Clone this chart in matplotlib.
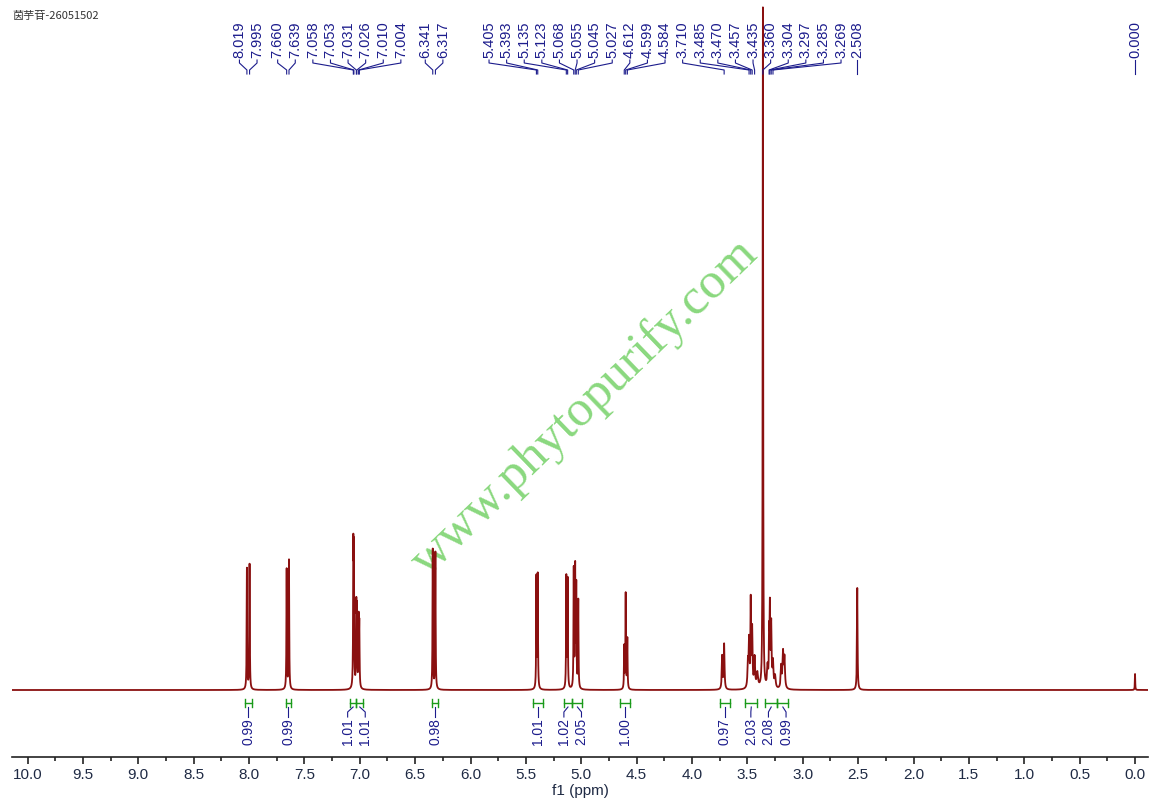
import numpy as np
import matplotlib.pyplot as plt

plt.rcParams['font.family'] = ['Liberation Sans', 'DejaVu Sans']

title = '茵芋苷-26051502'

# spectrum lines: shift (ppm), height (a.u.), line width (ppm)
peak_ppm = [8.019, 7.995, 7.660, 7.639,
            7.058, 7.053, 7.031, 7.026, 7.010, 7.004,
            6.341, 6.317,
            5.405, 5.393, 5.135, 5.123, 5.068, 5.055, 5.045, 5.027,
            4.612, 4.599, 4.584,
            3.728, 3.710,
            3.495, 3.485, 3.470, 3.457, 3.435, 3.410,
            3.360,
            3.318, 3.304, 3.297, 3.285, 3.269, 3.250,
            3.195, 3.178, 3.165,
            2.508, 0.000]
peak_height = [121, 125, 120, 129,
               130, 125, 75, 70, 66, 60,
               140, 137,
               111, 113, 111, 108, 118, 118, 100, 88,
               42, 95, 50,
               33, 45,
               25, 45, 85, 58, 30, 15,
               681,
               20, 50, 75, 62, 25, 12,
               22, 35, 30,
               102, 16]
peak_width = [0.005] * 23 + [0.008, 0.008,
                             0.010, 0.008, 0.006, 0.008, 0.010, 0.015,
                             0.005,
                             0.010, 0.006, 0.006, 0.008, 0.010, 0.012,
                             0.010, 0.010, 0.010,
                             0.006, 0.004]

# labelled shifts; the first list is spread as one block, the lone ones stay put
label_block = [8.019, 7.995, 7.660, 7.639, 7.058, 7.053, 7.031, 7.026, 7.010, 7.004,
               6.341, 6.317,
               5.405, 5.393, 5.135, 5.123, 5.068, 5.055, 5.045, 5.027, 4.612, 4.599, 4.584,
               3.710, 3.485, 3.470, 3.457, 3.435, 3.360, 3.304, 3.297, 3.285, 3.269]
label_single = [2.508, 0.000]

integral_from = [8.04, 7.67, 7.09, 7.03, 6.35, 5.44, 5.16, 5.08, 4.65, 3.75, 3.52, 3.34, 3.23]
integral_to = [7.97, 7.62, 7.03, 6.97, 6.29, 5.35, 5.08, 4.99, 4.56, 3.66, 3.41, 3.23, 3.13]
integral_val = ['0.99', '0.99', '1.01', '1.01', '0.98', '1.01', '1.02', '2.05',
                '1.00', '0.97', '2.03', '2.08', '0.99']

W, H = 1161, 806
navy = '#1c1c8c'
line_red = '#8a1010'
green = '#1a9a1a'


def spread(xs, gap):
    # push labels apart so neighbours are at least `gap` px apart
    clusters = [[x] for x in xs]
    merged = True
    while merged:
        merged = False
        for i in range(len(clusters) - 1):
            a, b = clusters[i], clusters[i + 1]
            end_a = np.mean(a) + gap * (len(a) - 1) / 2
            start_b = np.mean(b) - gap * (len(b) - 1) / 2
            if start_b - end_a < gap:
                clusters[i] = a + clusters.pop(i + 1)
                merged = True
                break
    out = []
    for c in clusters:
        start = np.mean(c) - gap * (len(c) - 1) / 2
        out += [start + gap * k for k in range(len(c))]
    return out


fig = plt.figure(figsize=(W / 100, H / 100), dpi=100)
ax = fig.add_axes([12 / W, 1 - 757 / H, (1148 - 12) / W, 757 / H])
ax.set_facecolor('none')

ppm = np.arange(-0.12, 10.14, 0.0005)
spec = np.zeros_like(ppm)
for p, h, w in zip(peak_ppm, peak_height, peak_width):
    spec += h / (1 + ((ppm - p) / (w / 2)) ** 2)
ax.plot(ppm, spec, color=line_red, lw=1.3, zorder=3)

ax.set_xlim(10.14, -0.117)
ax.set_ylim(-67, 690)
for s in ['left', 'right', 'top']:
    ax.spines[s].set_visible(False)
ax.spines['bottom'].set_linewidth(1.2)
ax.spines['bottom'].set_color('#222222')
ax.set_yticks([])
ax.set_xticks(np.arange(0, 10.01, 0.5))
ax.set_xticklabels(['%.1f' % v for v in np.arange(0, 10.01, 0.5)])
ax.set_xticks(np.arange(0.25, 10.1, 0.5), minor=True)
ax.tick_params(axis='x', which='major', length=5, width=1.2, color='#222222',
               labelsize=11, labelcolor='#1f2a44', pad=3)
ax.tick_params(axis='x', which='minor', length=3, width=1.2, color='#222222')
ax.set_xlabel('f1 (ppm)', fontsize=11, color='#1f2a44', labelpad=1)

# watermark
ax.text(585 / W, 1 - 408 / H, 'www.phytopurify.com', transform=fig.transFigure,
        rotation=44, ha='center', va='center', fontsize=37, color='#8ad87e',
        family='Liberation Serif', zorder=1)

fig.text(12 / W, 1 - 16 / H, title, fontsize=8, color='#333333', va='center',
         family=['Noto Sans CJK SC', 'DejaVu Sans'])

# overlay in image pixels for labels and integrals
ov = fig.add_axes([0, 0, 1, 1])
ov.set_xlim(0, W)
ov.set_ylim(H, 0)
ov.axis('off')
fig.canvas.draw()


def px(v):
    return ax.transData.transform((v, 0))[0]


def peak_labels(shifts):
    peaks_x = [px(v) for v in shifts]
    for v, xp, xl in zip(shifts, peaks_x, spread(peaks_x, 17.6)):
        ov.text(xl, 58, '%.3f' % v, rotation=90, ha='center', va='bottom',
                fontsize=10.5, color=navy)
        ov.plot([xl, xl, xp, xp], [60, 63, 70, 74], color=navy, lw=0.8)


peak_labels(label_block)
for v in label_single:
    peak_labels([v])

centres = [(px(a) + px(b)) / 2 for a, b in zip(integral_from, integral_to)]
for a, b, xc, xl, t in zip(integral_from, integral_to, centres,
                           spread(centres, 17.6), integral_val):
    x0, x1 = px(a), px(b)
    ov.plot([x0, x1], [703, 703], color=green, lw=1)
    ov.plot([x0, x0], [699, 707], color=green, lw=1)
    ov.plot([x1, x1], [699, 707], color=green, lw=1)
    ov.plot([xc, xl, xl], [707, 712, 717], color=navy, lw=0.8)
    ov.text(xl, 718, t, rotation=90, ha='center', va='top', fontsize=10, color=navy)

fig.savefig('out.png', dpi=100)
